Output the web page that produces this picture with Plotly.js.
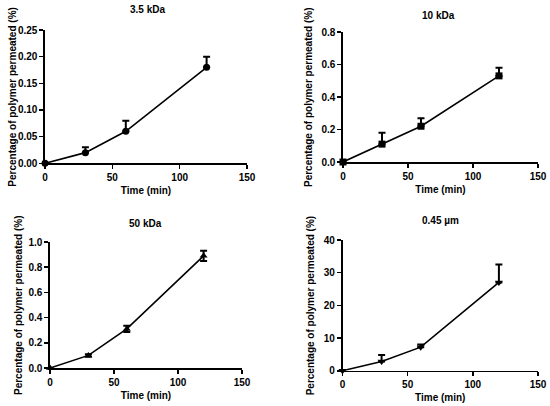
<!DOCTYPE html>
<html>
<head>
<meta charset="utf-8">
<script src="https://cdn.plot.ly/plotly-3.0.1.min.js"></script>
<style>html,body{margin:0;padding:0;background:#fff;}#chart{width:550px;height:406px;}</style>
</head>
<body>
<div id="chart"></div>
<script>
// Data
var timeMin = [0, 30, 60, 120];
var panelTitles = ["3.5 kDa", "10 kDa", "50 kDa", "0.45 µm"];
var perm35kDa = [0, 0.02, 0.06, 0.18];
var err35kDa = [0, 0.01, 0.02, 0.02];
var perm10kDa = [0, 0.11, 0.22, 0.53];
var err10kDa = [0, 0.07, 0.05, 0.05];
var perm50kDa = [0, 0.10, 0.31, 0.89];
var err50kDa = [0, 0.01, 0.025, 0.04];
var perm045um = [0, 2.8, 7.2, 27];
var err045um = [0, 2.0, 0.8, 5.5];
var xTicks = [0, 50, 100, 150];
var yTicks35 = [0, 0.05, 0.10, 0.15, 0.20, 0.25];
var yTicks10 = [0, 0.2, 0.4, 0.6, 0.8];
var yTicks50 = [0, 0.2, 0.4, 0.6, 0.8, 1.0];
var yTicks045 = [0, 10, 20, 30, 40];
var xTitle = "Time (min)";
var yTitle = "Percentage of polymer permeated (%)";

var W = 550, H = 406;
var fontFam = "Liberation Sans, Arial, sans-serif";
function px(x){return x / W;}
function py(y){return 1 - y / H;}

var panels = [
  {y: perm35kDa, e: err35kDa, sym: "circle", both: false, ticks: yTicks35, fmt: ".2f", range: [0, 0.25], dom: [[45, 247], [163.3, 30]], title: [147, 10], ytx: 13},
  {y: perm10kDa, e: err10kDa, sym: "square", both: false, ticks: yTicks10, fmt: ".1f", range: [0, 0.8], dom: [[343, 538], [162, 32]], title: [438, 15], ytx: 308},
  {y: perm50kDa, e: err50kDa, sym: "triangle-up", both: true, ticks: yTicks50, fmt: ".1f", range: [0, 1.0], dom: [[50, 242], [368, 242]], title: [145, 223], ytx: 18},
  {y: perm045um, e: err045um, sym: "triangle-down", both: false, ticks: yTicks045, fmt: "d", range: [0, 40], dom: [[342.5, 538], [370.7, 240]], title: [440, 221], ytx: 310}
];

var traces = [];
var layout = {
  width: W, height: H,
  margin: {l: 0, r: 0, t: 0, b: 0},
  paper_bgcolor: "#fff", plot_bgcolor: "#fff",
  showlegend: false,
  font: {family: fontFam, color: "#000"},
  annotations: []
};
var tFont = {family: fontFam, size: 10, weight: "bold", color: "#000"};

panels.forEach(function(p, i){
  var n = i + 1;
  var xa = "x" + (n === 1 ? "" : n), ya = "y" + (n === 1 ? "" : n);
  traces.push({
    x: timeMin, y: p.y, xaxis: xa, yaxis: ya,
    type: "scatter", mode: "lines+markers",
    line: {color: "#000", width: 1.6},
    marker: {symbol: p.sym, size: 7, color: "#000"},
    cliponaxis: false,
    error_y: {type: "data", array: p.e, arrayminus: p.both ? p.e : timeMin.map(function(){return 0;}), symmetric: false, visible: true, color: "#000", thickness: 2, width: 3.5}
  });
  var axCommon = {
    showgrid: false, zeroline: false, showline: true, linecolor: "#000", linewidth: 1.6,
    ticks: "outside", ticklen: 4, tickwidth: 1.6, tickcolor: "#000",
    tickfont: tFont, fixedrange: true
  };
  layout["xaxis" + (n === 1 ? "" : n)] = Object.assign({}, axCommon, {
    domain: [px(p.dom[0][0]), px(p.dom[0][1])],
    anchor: ya, range: [0, 150], tickmode: "array", tickvals: xTicks,
    title: {text: xTitle, font: tFont, standoff: 5}
  });
  layout["yaxis" + (n === 1 ? "" : n)] = Object.assign({}, axCommon, {
    domain: [py(p.dom[1][0]), py(p.dom[1][1])],
    anchor: xa, range: p.range, tickmode: "array", tickvals: p.ticks, tickformat: p.fmt
  });
  layout.annotations.push({
    text: panelTitles[i], xref: "paper", yref: "paper",
    x: px(p.title[0]), y: py(p.title[1]), xanchor: "center", yanchor: "middle",
    showarrow: false, font: tFont
  });
  layout.annotations.push({
    text: yTitle, xref: "paper", yref: "paper", textangle: -90,
    x: px(p.ytx), y: py((p.dom[1][0] + p.dom[1][1]) / 2), xanchor: "center", yanchor: "middle",
    showarrow: false, font: tFont
  });
});

Plotly.newPlot("chart", traces, layout, {displayModeBar: false, staticPlot: true});
</script>
</body>
</html>
